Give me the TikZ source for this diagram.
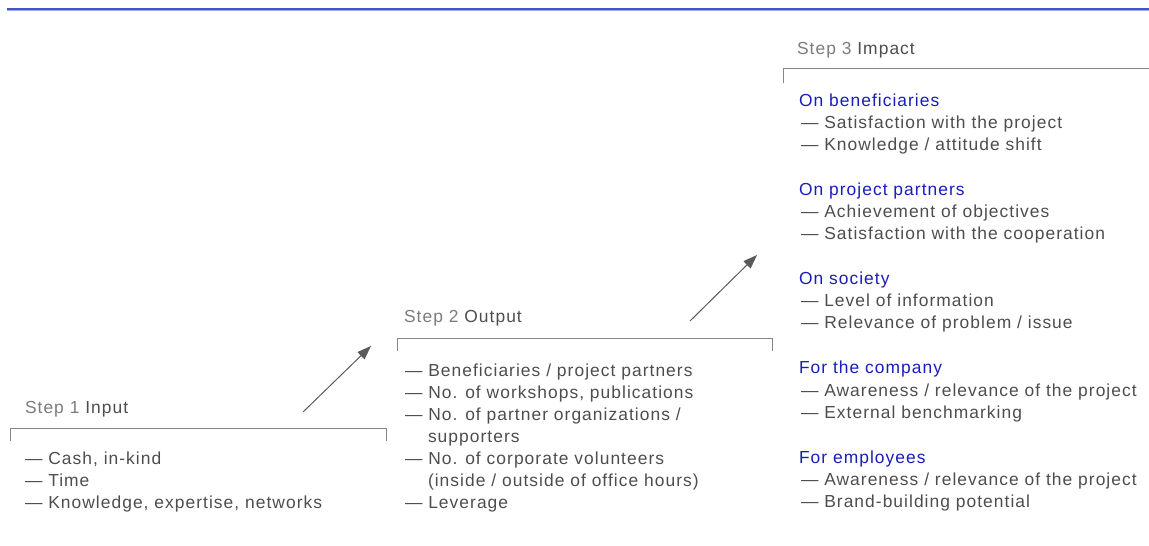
\documentclass[tikz,border=0pt]{standalone}
\usepackage{fontspec}
\setmainfont{Liberation Sans}[LetterSpace=6]
\usetikzlibrary{arrows.meta}
\definecolor{txt}{HTML}{4D4D4D}
\definecolor{lbl}{HTML}{7C7C7C}
\definecolor{hd}{HTML}{1A1EB8}
\definecolor{rulec}{HTML}{858585}
\definecolor{arrc}{HTML}{5A5A5A}
\definecolor{topline}{HTML}{4455CC}
\definecolor{toplight}{HTML}{A0A8E6}
\begin{document}
\begin{tikzpicture}[x=1pt,y=-1pt,
  itm/.style={anchor=base west, inner sep=0pt, outer sep=0pt, text=txt, font=\fontsize{17.4}{20}\selectfont},
  hdg/.style={itm, text=hd},
  stp/.style={itm},
  brk/.style={draw=rulec, line width=1pt},
  arr/.style={draw=arrc, line width=1pt, -{Triangle[length=14pt,width=10pt]}}]
\useasboundingbox (0,0) rectangle (1149,546);
% top rule
\draw[toplight, line width=2.6pt] (7,9.3) -- (1149,9.3);
\draw[topline, line width=1.8pt] (7,8.6) -- (1149,8.6);

% Step 1
\node[stp] (s1) at (25,413) {\textcolor{lbl}{Step 1} Input};
\draw[brk] (10,441) -- (10,428) -- (386,428) -- (386,441);
\node[itm] (i11) at (25,464) {— Cash, in-kind};
\node[itm] (i12) at (25,486) {— Time};
\node[itm] (i13) at (25,508) {— Knowledge, expertise, networks};

% Step 2
\node[stp] (s2) at (404,322) {\textcolor{lbl}{Step 2} Output};
\draw[brk] (397,351) -- (397,338) -- (772,338) -- (772,351);
\node[itm] (i21) at (405,376) {— Beneficiaries / project partners};
\node[itm] (i22) at (405,398) {— No. of workshops, publications};
\node[itm] (i23) at (405,420) {— No. of partner organizations /};
\node[itm] (i23b) at (428,442) {supporters};
\node[itm] (i24) at (405,464) {— No. of corporate volunteers};
\node[itm] (i24b) at (428,486) {(inside / outside of office hours)};
\node[itm] (i25) at (405,508) {— Leverage};

% Step 3
\node[stp] (s3) at (797,54) {\textcolor{lbl}{Step 3} Impact};
\draw[brk] (783,83) -- (783,68) -- (1149,68);

\node[hdg] (h1) at (799,106) {On beneficiaries};
\node[itm] (h1a) at (801,128) {— Satisfaction with the project};
\node[itm] (h1b) at (801,150) {— Knowledge / attitude shift};

\node[hdg] (h2) at (799,195) {On project partners};
\node[itm] (h2a) at (801,217) {— Achievement of objectives};
\node[itm] (h2b) at (801,239) {— Satisfaction with the cooperation};

\node[hdg] (h3) at (799,284) {On society};
\node[itm] (h3a) at (801,306) {— Level of information};
\node[itm] (h3b) at (801,328) {— Relevance of problem / issue};

\node[hdg] (h4) at (799,373) {For the company};
\node[itm] (h4a) at (801,396) {— Awareness / relevance of the project};
\node[itm] (h4b) at (801,418) {— External benchmarking};

\node[hdg] (h5) at (799,463) {For employees};
\node[itm] (h5a) at (801,485) {— Awareness / relevance of the project};
\node[itm] (h5b) at (801,507) {— Brand-building potential};

% arrows
\coordinate (a1s) at (303,412);
\coordinate (a1e) at (371,346);
\coordinate (a2s) at (690,321);
\coordinate (a2e) at (757,255);
\draw[arr] (a1s) -- (a1e);
\draw[arr] (a2s) -- (a2e);
\end{tikzpicture}
\end{document}
